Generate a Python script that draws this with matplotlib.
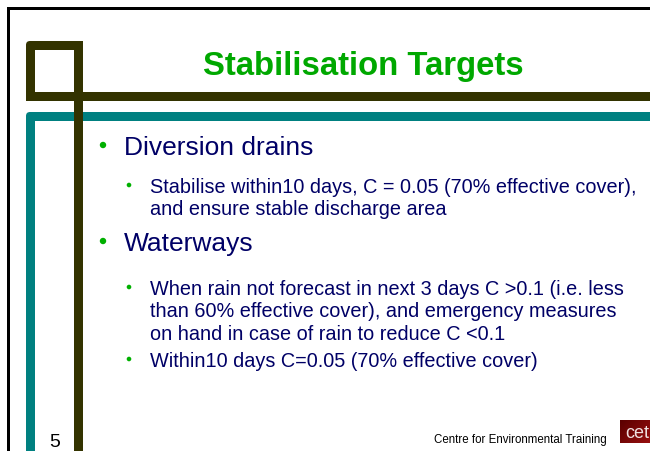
import numpy as np
import matplotlib.pyplot as plt
from matplotlib.colors import LinearSegmentedColormap
from matplotlib.patches import Rectangle, FancyBboxPatch, Circle

title = "Stabilisation Targets"
main_items = ["Diversion drains", "Waterways"]
sub_items = [
    ["Stabilise within10 days, C = 0.05 (70% effective cover),",
     "and ensure stable discharge area"],
    ["When rain not forecast in next 3 days C >0.1 (i.e. less",
     "than 60% effective cover), and emergency measures",
     "on hand in case of rain to reduce C <0.1"],
    ["Within10 days C=0.05 (70% effective cover)"],
]
page_number = "5"
footer = "Centre for Environmental Training"
logo = "cet"

OLIVE = "#333300"
TEAL = "#008080"
NAVY = "#000066"
GREEN = "#00a800"
BULLET = "#00b000"

plt.rcParams['font.family'] = ['Liberation Sans', 'DejaVu Sans']

fig = plt.figure(figsize=(6.5, 4.52), dpi=100)
ax = fig.add_axes([0, 0, 1, 1])
ax.set_xlim(0, 650)
ax.set_ylim(452, 0)
ax.axis('off')

# outer slide border
ax.add_patch(Rectangle((7, 8), 700, 2.5, color='black', lw=0))
ax.add_patch(Rectangle((7, 8), 2.5, 500, color='black', lw=0))

# teal frame
ax.add_patch(FancyBboxPatch((26, 113), 700, 400, boxstyle="round,pad=0,rounding_size=4",
                            fc=TEAL, ec='none'))
ax.add_patch(Rectangle((35, 122), 700, 400, color='white', lw=0))

# olive square and bars
ax.add_patch(FancyBboxPatch((26, 42), 57, 60, boxstyle="round,pad=0,rounding_size=4",
                            fc=OLIVE, ec='none'))
ax.add_patch(Rectangle((35, 51), 39, 42, color='white', lw=0))
ax.add_patch(Rectangle((74, 42), 9, 420, color=OLIVE, lw=0))
ax.add_patch(Rectangle((26, 93), 700, 9, color=OLIVE, lw=0))

# title
ax.text(363, 75, title, color=GREEN, fontsize=23.7, fontweight='bold',
        ha='center', va='baseline')

# bullets
main_y = [155, 251]
sub_y = [[193, 215.5], [295, 317.5, 340], [367]]
for i, txt in enumerate(main_items):
    ax.add_patch(Circle((103, main_y[i] - 9), 3.2, color=BULLET, lw=0))
    ax.text(124, main_y[i], txt, color=NAVY, fontsize=19, va='baseline')
for j, lines in enumerate(sub_items):
    ys = sub_y[j]
    ax.add_patch(Circle((129, ys[0] - 7), 2.3, color=BULLET, lw=0))
    for line, y in zip(lines, ys):
        ax.text(150, y, line, color=NAVY, fontsize=14.3, va='baseline')

# footer
ax.text(55, 447, page_number, color='black', fontsize=14, ha='center', va='baseline')
ax.text(607, 443, footer, color='black', fontsize=8.3, ha='right', va='baseline')

grad = np.linspace(0, 1, 64)[None, :] * 0.6 + np.linspace(0, 1, 32)[:, None] * 0.4
ax.imshow(grad, cmap=LinearSegmentedColormap.from_list('cet', ['#5a0000', '#9a1010']),
          extent=(620, 652, 444, 421), aspect='auto', zorder=2)
ax.text(637, 438, logo, color='#f0e0e0', fontsize=13, ha='center', va='baseline', zorder=3)
ax.set_xlim(0, 650)
ax.set_ylim(452, 0)

fig.savefig("out.png", dpi=100)
